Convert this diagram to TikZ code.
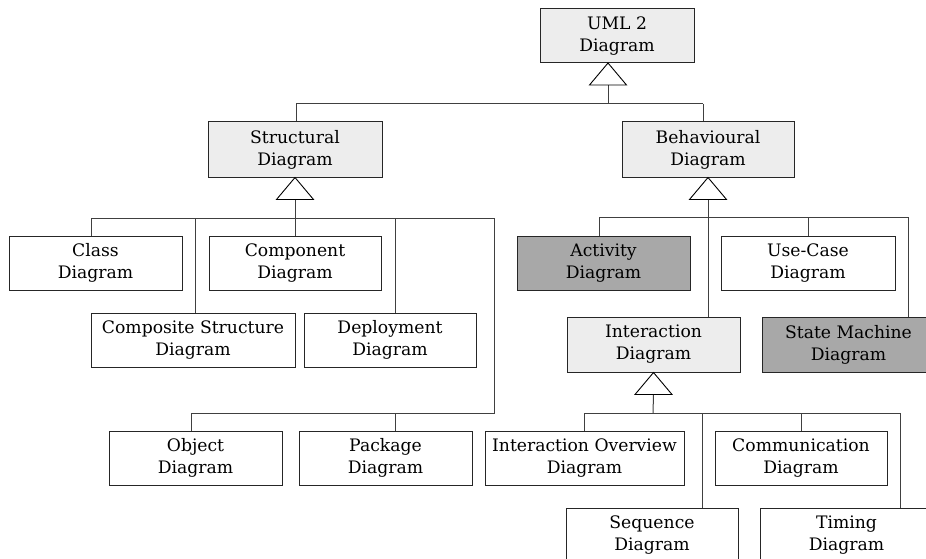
\documentclass[tikz,border=0pt]{standalone}
\usepackage{fontspec}
\setmainfont{DejaVu Serif}
\begin{document}
\begin{tikzpicture}[x=1pt,y=-1pt,
  box/.style={draw=black!85,line width=1pt,minimum height=54pt,inner sep=0pt,
    align=center,font=\fontsize{17.2}{22}\selectfont},
  plain/.style={box,fill=white},
  abstract/.style={box,fill=black!7},
  concrete/.style={box,fill=black!34},
  link/.style={draw=black!75,line width=1pt},
  gen/.style={draw=black,line width=0.9pt,fill=white,line join=miter}]
\useasboundingbox (0,0) rectangle (926,559);
\clip (0,0) rectangle (926,559);

% --- diagram boxes ---
\node[abstract,minimum width=154pt] (uml) at (617,36) {UML 2\\Diagram};
\node[abstract,minimum width=174pt,minimum height=55pt] (struct) at (295,149.5) {Structural\\Diagram};
\node[abstract,minimum width=172pt,minimum height=55pt] (behav) at (708,149.5) {Behavioural\\Diagram};

\node[plain,minimum width=173pt] (class) at (95.5,263) {Class\\Diagram};
\node[plain,minimum width=172pt] (component) at (295,263) {Component\\Diagram};
\node[plain,minimum width=204pt] (composite) at (193,340) {Composite Structure\\Diagram};
\node[plain,minimum width=172pt] (deploy) at (390,340) {Deployment\\Diagram};
\node[plain,minimum width=173pt] (object) at (195.5,458) {Object\\Diagram};
\node[plain,minimum width=173pt] (package) at (385.5,458) {Package\\Diagram};

\node[concrete,minimum width=173pt] (activity) at (603.5,263) {Activity\\Diagram};
\node[plain,minimum width=174pt] (usecase) at (808,263) {Use-Case\\Diagram};
\node[abstract,minimum width=173pt,minimum height=55pt] (interact) at (653.5,344.5) {Interaction\\Diagram};
\node[concrete,minimum width=173pt,minimum height=55pt] (statemach) at (848.5,344.5) {State Machine\\Diagram};

\node[plain,minimum width=199pt] (overview) at (584.5,458) {Interaction Overview\\Diagram};
\node[plain,minimum width=172pt] (commun) at (801,458) {Communication\\Diagram};
\node[plain,minimum width=172pt,minimum height=55pt] (sequence) at (652,535.5) {Sequence\\Diagram};
\node[plain,minimum width=173pt,minimum height=55pt] (timing) at (846.5,535.5) {Timing\\Diagram};

% --- generalisation trees: triangle under the parent, stem, bus, drops ---
% UML 2 Diagram
\coordinate (tU) at (608,63);
\coordinate (bU) at (608,104);
\coordinate (dStruct) at (296,104);
\coordinate (dBehav) at (703,104);
\draw[link] (dStruct) -- (dBehav);
\draw[link] ([yshift=-22pt]tU) -- (bU);
\draw[link] (dStruct) -- (dStruct |- struct.north);
\draw[link] (dBehav) -- (dBehav |- behav.north);
\draw[gen] (tU) -- ++(-18.5,22) -- ++(37,0) -- cycle;

% Structural Diagram
\coordinate (tS) at (struct.south);
\coordinate (bS) at (295,218);
\coordinate (dClass) at (91,218);
\coordinate (dComposite) at (195,218);
\coordinate (dDeploy) at (395,218);
\coordinate (dRight) at (494,218);
\draw[link] (dClass) -- (dRight);
\draw[link] ([yshift=-22pt]tS) -- (bS);
\draw[link] (dClass) -- (dClass |- class.north);
\draw[link] (dComposite) -- (dComposite |- composite.north);
\draw[link] (bS) -- (bS |- component.north);
\draw[link] (dDeploy) -- (dDeploy |- deploy.north);
\coordinate (bLow) at (494,413);
\coordinate (dObject) at (191,413);
\coordinate (dPackage) at (395,413);
\draw[link] (dRight) -- (bLow) -- (dObject);
\draw[link] (dObject) -- (dObject |- object.north);
\draw[link] (dPackage) -- (dPackage |- package.north);
\draw[gen] (tS) -- ++(-18.5,22) -- ++(37,0) -- cycle;

% Behavioural Diagram
\coordinate (tB) at (behav.south);
\coordinate (dActivity) at (599,217);
\coordinate (dUseCase) at (808,217);
\coordinate (dState) at (908,217);
\draw[link] (dActivity) -- (dState);
\draw[link] ([yshift=-22pt]tB) -- (tB |- interact.north);
\draw[link] (dActivity) -- (dActivity |- activity.north);
\draw[link] (dUseCase) -- (dUseCase |- usecase.north);
\draw[link] (dState) -- (dState |- statemach.north);
\draw[gen] (tB) -- ++(-18.5,22) -- ++(37,0) -- cycle;

% Interaction Diagram
\coordinate (tI) at (interact.south);
\coordinate (bI) at (653,413);
\coordinate (dOverview) at (584,413);
\coordinate (dSequence) at (702,413);
\coordinate (dCommun) at (801,413);
\coordinate (dTiming) at (900,413);
\draw[link] (dOverview) -- (dTiming);
\draw[link] ([yshift=-22pt]tI) -- (bI);
\draw[link] (dOverview) -- (dOverview |- overview.north);
\draw[link] (dSequence) -- (dSequence |- sequence.north);
\draw[link] (dCommun) -- (dCommun |- commun.north);
\draw[link] (dTiming) -- (dTiming |- timing.north);
\draw[gen] (tI) -- ++(-18.5,22) -- ++(37,0) -- cycle;
\end{tikzpicture}
\end{document}
